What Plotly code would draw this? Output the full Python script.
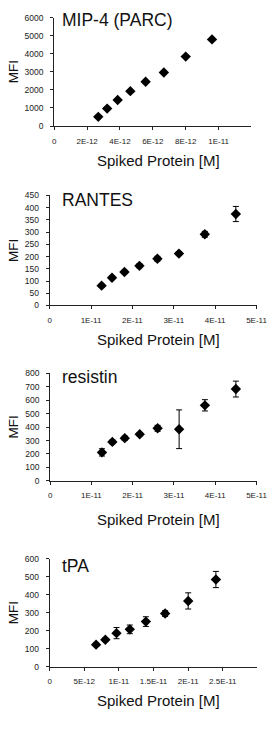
import plotly.graph_objects as go

W, H = 278, 751

# ---------------- data ----------------
mip4_x = [2.68e-12, 3.22e-12, 3.86e-12, 4.63e-12, 5.56e-12, 6.67e-12, 8.0e-12, 9.6e-12]
mip4_y = [510, 965, 1440, 1930, 2450, 2965, 3840, 4790]
mip4_err = [0, 0, 0, 0, 0, 0, 0, 0]

rantes_x = [1.256e-11, 1.507e-11, 1.808e-11, 2.17e-11, 2.604e-11, 3.125e-11, 3.75e-11, 4.5e-11]
rantes_y = [81, 113, 137, 162, 191, 212, 291, 374]
rantes_err = [6, 7, 7, 8, 10, 8, 12, 31]

resistin_x = [1.256e-11, 1.507e-11, 1.808e-11, 2.17e-11, 2.604e-11, 3.125e-11, 3.75e-11, 4.5e-11]
resistin_y = [212, 290, 318, 347, 391, 384, 562, 683]
resistin_err = [27, 14, 15, 12, 22, 144, 42, 59]

tpa_x = [6.7e-12, 8.04e-12, 9.65e-12, 1.157e-11, 1.389e-11, 1.667e-11, 2.0e-11, 2.4e-11]
tpa_y = [123, 150, 187, 208, 251, 296, 366, 485]
tpa_err = [8, 9, 31, 24, 27, 16, 45, 45]

titles = ["MIP-4 (PARC)", "RANTES", "resistin", "tPA"]

mip4_xticks = [0, 2e-12, 4e-12, 6e-12, 8e-12, 1e-11]
mip4_xtext = ["0", "2E-12", "4E-12", "6E-12", "8E-12", "1E-11"]
r_xticks = [0, 1e-11, 2e-11, 3e-11, 4e-11, 5e-11]
r_xtext = ["0", "1E-11", "2E-11", "3E-11", "4E-11", "5E-11"]
tpa_xticks = [0, 5e-12, 1e-11, 1.5e-11, 2e-11, 2.5e-11]
tpa_xtext = ["0", "5E-12", "1E-11", "1.5E-11", "2E-11", "2.5E-11"]

mip4_yticks = [0, 1000, 2000, 3000, 4000, 5000, 6000]
rantes_yticks = [0, 50, 100, 150, 200, 250, 300, 350, 400, 450]
resistin_yticks = [0, 100, 200, 300, 400, 500, 600, 700, 800]
tpa_yticks = [0, 100, 200, 300, 400, 500, 600]

x_title = "Spiked Protein [M]"
y_title = "MFI"

# ---------------- layout geometry (pixels) ----------------
panels = [
    dict(x=mip4_x, y=mip4_y, e=mip4_err, xr=[0, 1.2e-11], yr=[0, 6000],
         xt=mip4_xticks, xtt=mip4_xtext, yt=mip4_yticks,
         box=(54.8, 261.7, 12.7, 122.7), title_y=15, xt_y=157.5),
    dict(x=rantes_x, y=rantes_y, e=rantes_err, xr=[0, 5e-11], yr=[0, 450],
         xt=r_xticks, xtt=r_xtext, yt=rantes_yticks,
         box=(50, 267, 193, 304.5), title_y=197.5, xt_y=339.5),
    dict(x=resistin_x, y=resistin_y, e=resistin_err, xr=[0, 5e-11], yr=[0, 800],
         xt=r_xticks, xtt=r_xtext, yt=resistin_yticks,
         box=(50.5, 267, 373.3, 482.3), title_y=377.5, xt_y=521),
    dict(x=tpa_x, y=tpa_y, e=tpa_err, xr=[0, 3e-11], yr=[0, 600],
         xt=tpa_xticks, xtt=tpa_xtext, yt=tpa_yticks,
         box=(50, 268, 561.3, 670.7), title_y=568.5, xt_y=705),
]

FONT = "Liberation Sans, Arial, sans-serif"
fig = go.Figure()
annotations = []

for i, p in enumerate(panels):
    n = "" if i == 0 else str(i + 1)
    L, R, T, B = p["box"]
    xd = [L / W, R / W]
    yd = [1 - B / H, 1 - T / H]
    fig.add_trace(go.Scatter(
        x=p["x"], y=p["y"], mode="markers",
        marker=dict(symbol="diamond", size=8, color="black"),
        error_y=dict(type="data", array=p["e"], visible=True,
                     color="black", thickness=1, width=3),
        xaxis="x" + n, yaxis="y" + n, showlegend=False, cliponaxis=False,
    ))
    fig.layout["xaxis" + n] = dict(
        domain=xd, range=p["xr"], anchor="y" + n,
        tickmode="array", tickvals=p["xt"], ticktext=p["xtt"],
        showline=True, linecolor="#222", linewidth=1,
        ticks="outside", ticklen=3, tickcolor="#222", tickwidth=1,
        showgrid=False, zeroline=False,
        tickfont=dict(family=FONT, size=8, color="#222"),
        ticklabelstandoff=4, ticklabeloverflow="allow",
    )
    fig.layout["yaxis" + n] = dict(
        domain=yd, range=p["yr"], anchor="x" + n,
        tickmode="array", tickvals=p["yt"],
        showline=True, linecolor="#222", linewidth=1,
        ticks="outside", ticklen=3, tickcolor="#222", tickwidth=1,
        showgrid=False, zeroline=False,
        tickfont=dict(family=FONT, size=8.5, color="#222"),
        ticklabelstandoff=5,
    )
    # panel title
    annotations.append(dict(
        text=titles[i], x=61 / W, y=1 - p["title_y"] / H, xref="paper", yref="paper",
        xanchor="left", yanchor="middle", showarrow=False,
        font=dict(family=FONT, size=17.5, color="#111"),
    ))
    # y title
    annotations.append(dict(
        text=y_title, x=12 / W, y=1 - ((T + B) / 2) / H, xref="paper", yref="paper",
        xanchor="center", yanchor="middle", showarrow=False, textangle=-90,
        font=dict(family=FONT, size=13.5, color="#111"),
    ))
    # x title
    annotations.append(dict(
        text=x_title, x=164 / W, y=1 - p["xt_y"] / H, xref="paper", yref="paper",
        xanchor="center", yanchor="middle", showarrow=False,
        font=dict(family=FONT, size=15, color="#111"),
    ))

fig.update_layout(
    width=W, height=H, margin=dict(l=0, r=0, t=0, b=0),
    paper_bgcolor="white", plot_bgcolor="white",
    annotations=annotations,
)

fig.write_html("out.html")
